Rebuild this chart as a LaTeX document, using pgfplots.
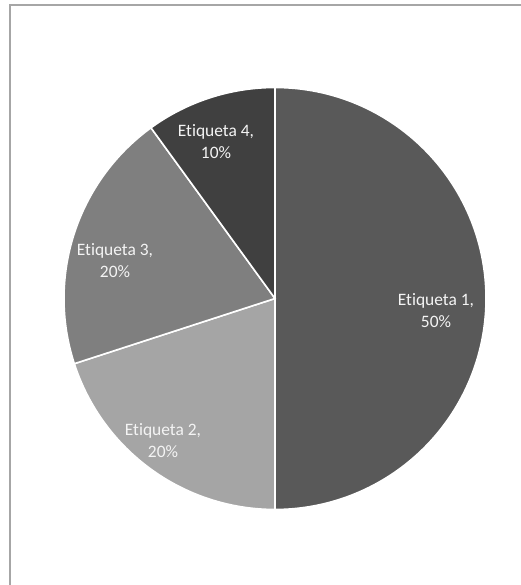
\documentclass[border=0pt]{standalone}
\usepackage{fontspec}
\setmainfont{Carlito}[Ligatures={NoCommon,NoContextual}]
\usepackage{pgfplots}
\usepackage{pgfplotstable}
\pgfplotsset{compat=1.18}
\definecolor{sA}{HTML}{595959}
\definecolor{sB}{HTML}{A5A5A5}
\definecolor{sC}{HTML}{7F7F7F}
\definecolor{sD}{HTML}{404040}
\definecolor{bordercol}{HTML}{A6A6A6}
\definecolor{labcol}{HTML}{F4F4F4}

\pgfplotstableread{
val
50
20
20
10
}\piedata

\begin{document}
\begin{tikzpicture}
% cumulative angles (clockwise from 12 o'clock)
\pgfplotstablegetelem{0}{val}\of\piedata \pgfmathsetmacro\aA{90-3.6*\pgfplotsretval}
\pgfplotstablegetelem{1}{val}\of\piedata \pgfmathsetmacro\aB{\aA-3.6*\pgfplotsretval}
\pgfplotstablegetelem{2}{val}\of\piedata \pgfmathsetmacro\aC{\aB-3.6*\pgfplotsretval}
\pgfplotstablegetelem{3}{val}\of\piedata \pgfmathsetmacro\aD{\aC-3.6*\pgfplotsretval}
\begin{axis}[
  width=521bp, height=585bp, scale only axis,
  xmin=0, xmax=521, ymin=0, ymax=585,
  hide axis, clip=false,
]
\addplot[draw=none] coordinates {(0,0) (521,585)};
\draw[bordercol, line width=2bp] (axis cs:10,-10) -- (axis cs:10,580) -- (axis cs:540,580);
\fill[sA, draw=white, line width=1.6bp] (axis cs:275,286.5) -- ++(90:211bp) arc[start angle=90, end angle=\aA, radius=211bp] -- cycle;
\fill[sB, draw=white, line width=1.6bp] (axis cs:275,286.5) -- ++(\aA:211bp) arc[start angle=\aA, end angle=\aB, radius=211bp] -- cycle;
\fill[sC, draw=white, line width=1.6bp] (axis cs:275,286.5) -- ++(\aB:211bp) arc[start angle=\aB, end angle=\aC, radius=211bp] -- cycle;
\fill[sD, draw=white, line width=1.6bp] (axis cs:275,286.5) -- ++(\aC:211bp) arc[start angle=\aC, end angle=\aD, radius=211bp] -- cycle;
\tikzset{lab/.style={align=center, text=labcol, font=\fontsize{17.5}{22}\selectfont, inner sep=0pt}}
\node[lab] at (axis cs:436,274) {Etiqueta 1,\\50\%};
\node[lab] at (axis cs:163,144) {Etiqueta 2,\\20\%};
\node[lab] at (axis cs:115,324) {Etiqueta 3,\\20\%};
\node[lab] at (axis cs:216,443) {Etiqueta 4,\\10\%};
\end{axis}
\pgfresetboundingbox
\useasboundingbox (current axis.south west) rectangle (current axis.north east);
\end{tikzpicture}
\end{document}
